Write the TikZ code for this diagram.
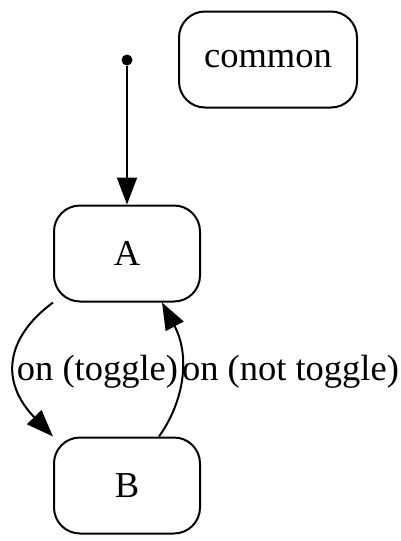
\documentclass[tikz,border=0pt]{standalone}
\usepackage{fontspec}
\setmainfont{Liberation Serif}
\usetikzlibrary{arrows.meta}
\begin{document}
\begin{tikzpicture}[x=1pt,y=-1pt,
  state/.style={draw, line width=2pt, rounded corners=26pt, inner sep=0pt,
    minimum width=146pt, minimum height=96pt,
    font=\fontsize{36.5}{40}\selectfont},
  lbl/.style={anchor=base, inner sep=0pt, font=\fontsize{36.5}{40}\selectfont},
  edge/.style={line width=2pt, -{Triangle[length=27pt,width=20pt]}}]
  \useasboundingbox (0,0) rectangle (400,541);
  % initial pseudo-state
  \node[circle, fill, inner sep=0pt, minimum size=11pt] (init) at (127,60) {};
  % states
  \node[state, minimum width=178pt] (common) at (268,59.5) {common};
  \node[state] (A) at (127,253.5) {A};
  \node[state] (B) at (127,485.5) {B};
  % transitions
  \draw[edge] (init) -- (A.north);
  \draw[edge] (A.south west) .. controls (5,338) and (0,382) .. (B.north west);
  \draw[edge] ([xshift=32pt]B.north) .. controls (185,400) and (190,355) .. ([xshift=35pt]A.south);
  % transition labels
  \node[lbl] (t1) at (97.5,380) {on (toggle)};
  \node[lbl] (t2) at (290.5,380) {on (not toggle)};
\end{tikzpicture}
\end{document}
